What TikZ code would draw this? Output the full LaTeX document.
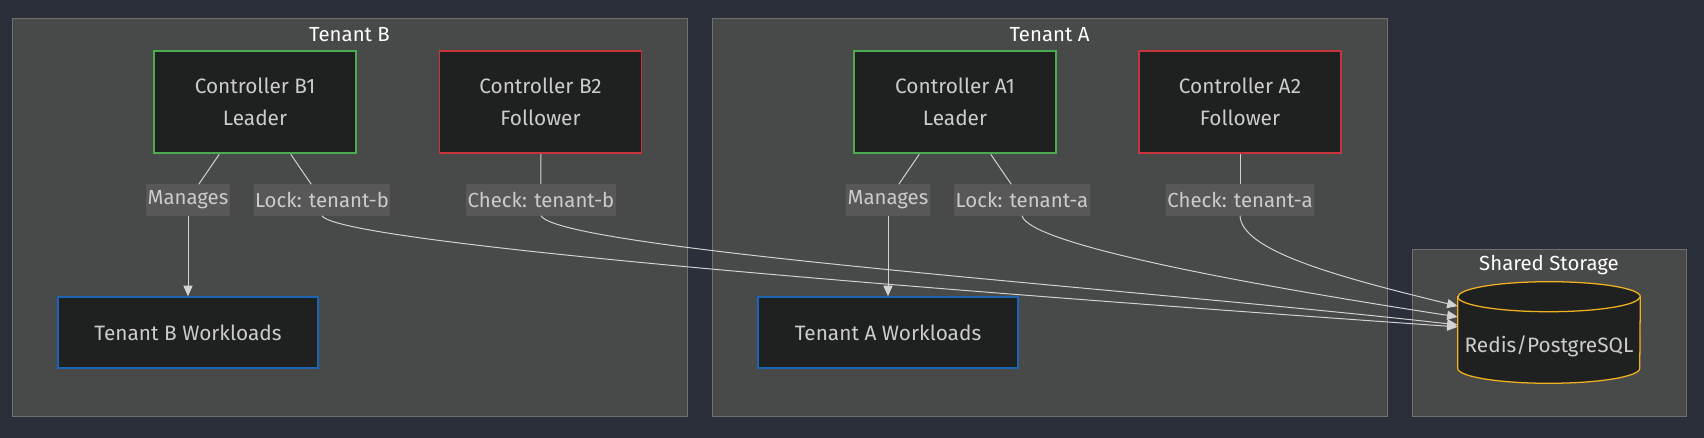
\documentclass[tikz,border=0pt]{standalone}
\usepackage{fontspec}
\setmainfont{Fira Sans}
\usetikzlibrary{arrows.meta}

\definecolor{pagebg}{RGB}{42,47,58}
\definecolor{clusterbg}{RGB}{72,73,73}
\definecolor{clusterline}{RGB}{112,112,112}
\definecolor{nodebg}{RGB}{31,32,32}
\definecolor{txtgray}{RGB}{204,204,204}
\definecolor{lblbg}{RGB}{88,88,88}
\definecolor{edgegray}{RGB}{211,211,211}
\definecolor{leadgreen}{RGB}{76,170,80}
\definecolor{followred}{RGB}{200,52,60}
\definecolor{workblue}{RGB}{30,100,180}
\definecolor{storegold}{RGB}{240,178,30}

\tikzset{
  cluster/.style={fill=clusterbg, draw=clusterline, line width=0.7pt},
  clustertitle/.style={text=white, font=\fontsize{14.5}{16}\selectfont},
  ctrl/.style={fill=nodebg, text=txtgray, minimum width=5.05cm, minimum height=2.55cm,
    align=center, font=\fontsize{14.8}{22.7}\selectfont},
  leader/.style={ctrl, draw=leadgreen, line width=1.9pt},
  follower/.style={ctrl, draw=followred, line width=1.1pt},
  workload/.style={fill=nodebg, text=txtgray, draw=workblue, line width=1.1pt,
    minimum width=6.5cm, minimum height=1.775cm, font=\fontsize{14.8}{16}\selectfont},
  edgelbl/.style={fill=lblbg, text=txtgray, inner xsep=1pt, inner ysep=0pt,
    minimum height=0.775cm, font=\fontsize{14.5}{16}\selectfont},
  link/.style={draw=edgegray, line width=0.7pt},
  arrowlink/.style={link, -{Triangle[length=7.5pt, width=6.5pt]}},
}

\begin{document}
\begin{tikzpicture}[x=0.025cm, y=-0.025cm]
		% page
		\fill[pagebg] (0,0) rectangle (1704,438);
		\useasboundingbox (0,0) rectangle (1704,438);
		% clusters
		\draw[cluster] (12,18) rectangle (687,416);
		\draw[cluster] (712,18) rectangle (1387,416);
		\draw[cluster] (1412,249) rectangle (1686,416);
		\node[clustertitle] (titleb) at (349.5,35) {Tenant B};
		\node[clustertitle] (titlea) at (1049.5,35) {Tenant A};
		\node[clustertitle] (titles) at (1549,265) {Shared Storage};
		% tenant B
		\node[leader] (b1) at (255,102) {Controller B1\\Leader};
		\node[follower] (b2) at (540.5,102) {Controller B2\\Follower};
		\node[workload] (wlb) at (188,332.5) {Tenant B Workloads};
		% tenant A
		\node[leader] (a1) at (955,102) {Controller A1\\Leader};
		\node[follower] (a2) at (1240,102) {Controller A2\\Follower};
		\node[workload] (wla) at (888,332.5) {Tenant A Workloads};
		% storage
		\node[minimum width=4.55cm, minimum height=2.525cm, inner sep=0pt] (db) at (1549,332.5) {};
		\draw[draw=storegold, fill=nodebg, line width=0.9pt] ([yshift=-0.375cm]db.north west) -- ([yshift=0.375cm]db.south west)
			arc[start angle=180, end angle=360, x radius=2.275cm, y radius=0.375cm] -- ([yshift=-0.375cm]db.north east)
			arc[start angle=0, end angle=180, x radius=2.275cm, y radius=0.375cm] -- cycle;
		\draw[draw=storegold, line width=0.9pt] ([yshift=-0.375cm]db.north west)
			arc[start angle=180, end angle=360, x radius=2.275cm, y radius=0.375cm];
		\node[text=txtgray, font=\fontsize{14.8}{16}\selectfont] (dbtext) at (1549,346) {Redis/PostgreSQL};
		% edge labels
		\node[edgelbl] (mgb) at (188,200) {Manages};
		\node[edgelbl] (lkb) at (322,200) {Lock: tenant-b};
		\node[edgelbl] (chkb) at (541,200) {Check: tenant-b};
		\node[edgelbl] (mga) at (888,200) {Manages};
		\node[edgelbl] (lka) at (1022,200) {Lock: tenant-a};
		\node[edgelbl] (chka) at (1240,200) {Check: tenant-a};
		% connectors
		\draw[link] (b1) -- (mgb);
		\draw[arrowlink] (mgb) -- (wlb);
		\draw[link] (b1) -- (lkb);
		\draw[arrowlink] (lkb.south) .. controls +(18,29) and +(-458,-32) .. ([yshift=0.14cm]db.west);
		\draw[link] (b2) -- (chkb);
		\draw[arrowlink] (chkb.south) .. controls +(20,34) and +(-308,-35) .. ([yshift=0.19cm]db.west);
		\draw[link] (a1) -- (mga);
		\draw[arrowlink] (mga) -- (wla);
		\draw[link] (a1) -- (lka);
		\draw[arrowlink] (lka.south) .. controls +(8,29) and +(-208,-32) .. ([yshift=0.39cm]db.west);
		\draw[link] (a2) -- (chka);
		\draw[arrowlink] (chka.south) .. controls +(2,34) and +(-128,-31) .. ([yshift=0.66cm]db.west);
\end{tikzpicture}
\end{document}
